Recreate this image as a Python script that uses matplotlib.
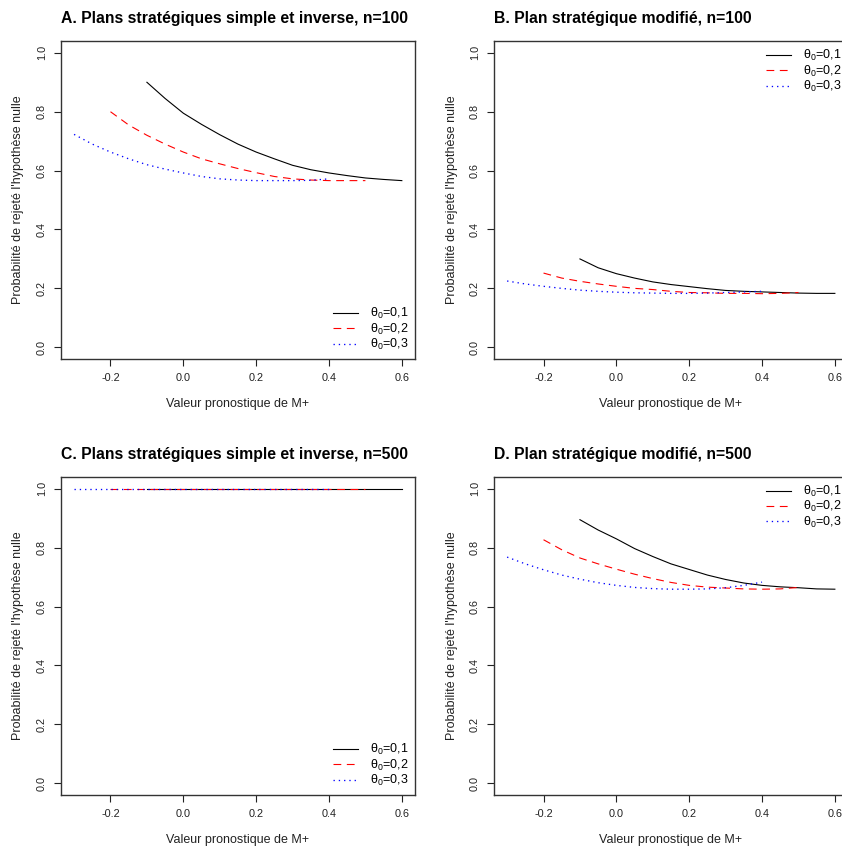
"""
Probabilite de rejet de H0 selon la valeur pronostique de M+ (4 panneaux)
"""
import matplotlib
matplotlib.use("Agg")
import matplotlib.pyplot as plt

plt.rcParams['font.family'] = ['Liberation Sans', 'DejaVu Sans']
plt.rcParams['mathtext.fontset'] = 'custom'
plt.rcParams['mathtext.rm'] = 'Liberation Sans'
plt.rcParams['mathtext.it'] = 'Liberation Sans'

# valeurs pronostiques (pas de 0.05)
x_t1 = [-0.10, -0.05, 0.00, 0.05, 0.10, 0.15, 0.20, 0.25, 0.30, 0.35, 0.40, 0.45, 0.50, 0.55, 0.60]
x_t2 = [-0.20, -0.15, -0.10, -0.05, 0.00, 0.05, 0.10, 0.15, 0.20, 0.25, 0.30, 0.35, 0.40, 0.45, 0.50]
x_t3 = [-0.30, -0.25, -0.20, -0.15, -0.10, -0.05, 0.00, 0.05, 0.10, 0.15, 0.20, 0.25, 0.30, 0.35, 0.40]

# A. simple et inverse, n=100
a_t1 = [0.900, 0.845, 0.795, 0.757, 0.722, 0.690, 0.663, 0.640, 0.618, 0.603, 0.592, 0.583, 0.575, 0.570, 0.566]
a_t2 = [0.800, 0.755, 0.720, 0.690, 0.663, 0.640, 0.623, 0.607, 0.593, 0.580, 0.572, 0.568, 0.566, 0.566, 0.566]
a_t3 = [0.723, 0.690, 0.663, 0.640, 0.620, 0.605, 0.592, 0.580, 0.572, 0.568, 0.566, 0.566, 0.566, 0.567, 0.572]

# B. modifie, n=100
b_t1 = [0.300, 0.270, 0.250, 0.235, 0.222, 0.213, 0.206, 0.199, 0.193, 0.190, 0.188, 0.186, 0.184, 0.183, 0.183]
b_t2 = [0.252, 0.235, 0.224, 0.215, 0.207, 0.200, 0.196, 0.190, 0.186, 0.185, 0.183, 0.183, 0.182, 0.183, 0.186]
b_t3 = [0.225, 0.215, 0.207, 0.200, 0.194, 0.190, 0.187, 0.185, 0.184, 0.183, 0.183, 0.184, 0.186, 0.188, 0.190]

# C. simple et inverse, n=500
c_t1 = [1.0] * 15
c_t2 = [1.0] * 15
c_t3 = [1.0] * 15

# D. modifie, n=500
d_t1 = [0.895, 0.860, 0.830, 0.797, 0.770, 0.745, 0.726, 0.707, 0.692, 0.680, 0.672, 0.667, 0.664, 0.660, 0.659]
d_t2 = [0.827, 0.793, 0.765, 0.745, 0.727, 0.710, 0.695, 0.682, 0.672, 0.666, 0.663, 0.660, 0.659, 0.660, 0.665]
d_t3 = [0.768, 0.745, 0.725, 0.707, 0.693, 0.681, 0.672, 0.665, 0.661, 0.659, 0.659, 0.660, 0.664, 0.672, 0.683]

titles = ["A. Plans stratégiques simple et inverse, n=100",
          "B. Plan stratégique modifié, n=100",
          "C. Plans stratégiques simple et inverse, n=500",
          "D. Plan stratégique modifié, n=500"]
leg_labels = [r"θ$_0$=0,1", r"θ$_0$=0,2", r"θ$_0$=0,3"]
xticks = [-0.2, 0.0, 0.2, 0.4, 0.6]
yticks = [0.0, 0.2, 0.4, 0.6, 0.8, 1.0]

panels = [(a_t1, a_t2, a_t3), (b_t1, b_t2, b_t3), (c_t1, c_t2, c_t3), (d_t1, d_t2, d_t3)]
# axes rectangles (right column runs past the figure edge, like the original)
rects = [[0.0724, 0.5776, 0.4204, 0.3741],
         [0.5867, 0.5776, 0.4204, 0.3741],
         [0.0724, 0.0647, 0.4204, 0.3741],
         [0.5867, 0.0647, 0.4204, 0.3741]]
leg_loc = ['lower right', 'upper right', 'lower right', 'upper right']

fig = plt.figure(figsize=(8.42, 8.5), dpi=100)

for i, (ys, rect) in enumerate(zip(panels, rects)):
    ax = fig.add_axes(rect)
    ax.plot(x_t1, ys[0], color='black', lw=0.8, ls='-', label=leg_labels[0])
    ax.plot(x_t2, ys[1], color='red', lw=0.8, ls=(0, (7, 5)), label=leg_labels[1])
    ax.plot(x_t3, ys[2], color='blue', lw=0.95, ls=(0, (1, 3)), label=leg_labels[2])

    ax.set_xlim(-0.336, 0.636)
    ax.set_ylim(-0.04, 1.04)
    ax.set_xticks(xticks)
    ax.set_xticklabels(["%.1f" % v for v in xticks])
    ax.set_yticks(yticks)
    ax.set_yticklabels(["%.1f" % v for v in yticks], rotation=90, va='center')
    ax.tick_params(direction='out', length=5, width=0.8, labelsize=7.8,
                   colors='#222222', pad=5)
    for s in ax.spines.values():
        s.set_linewidth(1.0)
        s.set_color('#333333')

    ax.set_xlabel("Valeur pronostique de M+", fontsize=9, color='#222222', va='center')
    ax.set_ylabel("Probabilité de rejeté l'hypothèse nulle", fontsize=9, color='#222222')
    ax.yaxis.label.set_verticalalignment('center')
    ax.xaxis.set_label_coords(0.5, -0.1415)
    ax.yaxis.set_label_coords(-0.12, 0.5)
    ax.set_title(titles[i], loc='left', fontsize=11.3, fontweight='bold', pad=13)

    ax.legend(loc=leg_loc[i], frameon=False, fontsize=9, handlelength=2.0,
              handletextpad=0.9, labelspacing=0.03, borderaxespad=0.25,
              borderpad=0.3)

plt.savefig("out.png", dpi=100)
plt.close()
